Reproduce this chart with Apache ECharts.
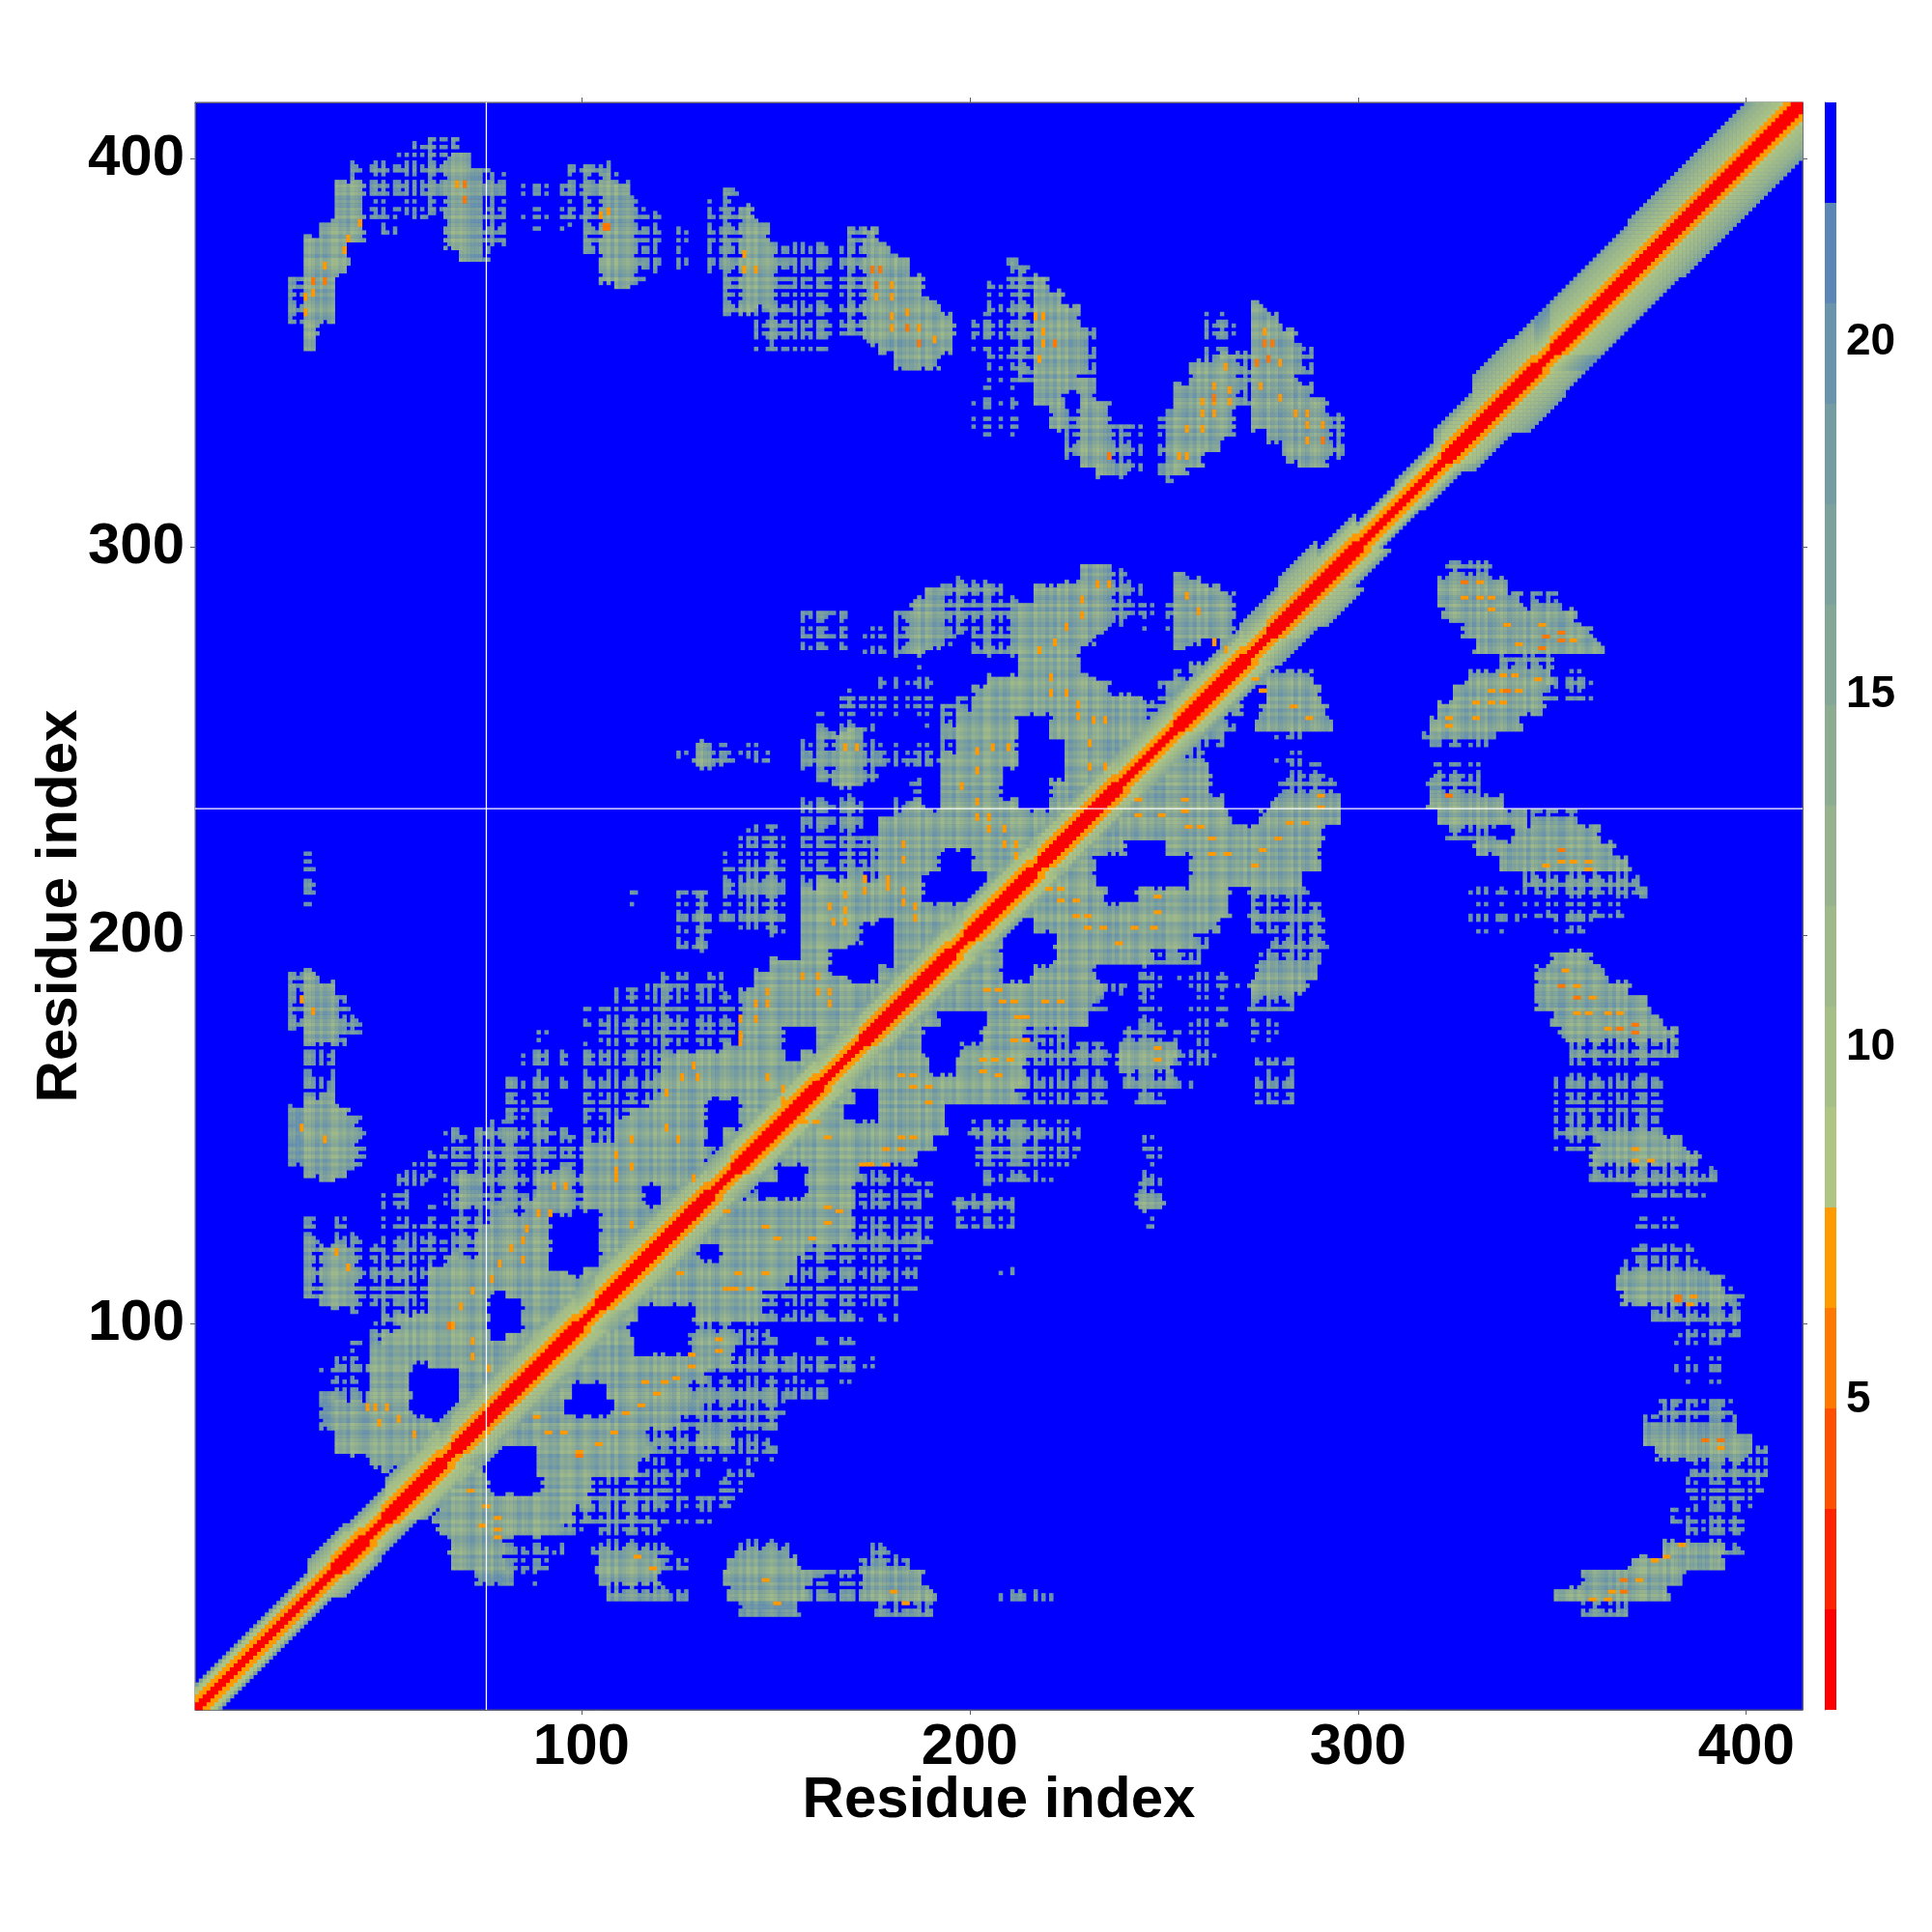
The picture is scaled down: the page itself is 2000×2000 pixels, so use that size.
<!DOCTYPE html>
<html>
<head>
<meta charset="utf-8">
<style>html,body{margin:0;padding:0;background:#fff}#c{width:2000px;height:2000px}</style>
<script src="https://cdn.jsdelivr.net/npm/echarts@6/dist/echarts.min.js"></script>
</head>
<body>
<div id="c"></div>
<script>
// Colour levels, lowest distance first
const levelColors = ['#ff0000','#ff2400','#ff5000','#ff7800','#ff9a00','#aec583','#a6bf86','#9eb98a','#96b38e','#8dad93','#85a797','#7da19c','#749ca2','#6a94ab','#5c86b6','#0000ff'];
const colorbarLow = 0.6;
const colorbarStep = 1.425;
const colorbarTicks = [5,10,15,20];
const residueTicks = [100,200,300,400];
const residueCount = 414;
const gapColumns = [75.5];
const gapRows = [232.6];

// Half width of the diagonal band, per 10 residues
const bandHalfWidth = [6,6,6,9,8,10,11,10,10,10,10,10,10,9,9,9,9,9,9,9,9,9,9,9,9,9,9,10,12,9,6,7,10,14,13,13,13,14,14,14,14,14];
// Stretches where the red and orange core of the diagonal is thick
const helixRanges = [[36,43],[49,63],[67,79],[80,98],[104,119],[120,132],[139,160],[172,194],[199,215],[218,237],[253,270],[277,299],[322,345],[350,414]];
// Level by distance from the diagonal
const helixProfile = [0,0,0,4,4,5,6,6,7,7,8,8,9,10,11,12,13];
const coilProfile = [0,0,4,4,5,6,7,8,9,10,11,12,13,13,13,13,13];

// Contacts below the diagonal, one entry per 4 rows starting at row 25: "from-to kind"
// c solid core, m solid edge, d dense hatching, h open hatching, x sparse dots
const firstContactRow = 25;
const contactRows = [
"141-156m 176-190d 358-369d",
"107-122d 122-128h 138-158c 158-172h 172-191c 207-222x 351-380c",
"73-82m 84-88x 104-120c 137-160c 160-170h 172-188c 358-384c",
"67-80c 80-92h 104-120c 120-127h 138-156c 172-184d 370-394c",
"66-80c 80-95h 103-118d 118-124h 140-153d 174-180h 379-395c 395-399h",
"63-94c 94-100h 105-120h 384-399h",
"62-98c 100-118d 118-135x 381-400h",
"64-102c 102-120d 120-140h 386-402h",
"66-76c 90-103c 103-125h 135-141h 385-404h",
"68-75c 89-115c 116-130h 138-144h 386-402d 402-405h",
"69-76c 89-118c 118-150h 377-401c 401-405h",
"70-116c 116-130d 130-139c 139-148h 374-401c",
"78-125c 125-150d 374-397d",
"83-95c 108-130c 130-152d 378-396d",
"85-97c 107-128c 128-150d 150-163h",
"89-132c 132-155h 155-172x 382-393x",
"93-139c 139-155d 155-170h 170-176x 382-393x",
"98-113c 128-140c 140-150h 160-172x 382-393x",
"101-112c 128-140d 141-148h 383-398h",
"109-114c 129-147c 147-172h 176-181x 376-398d",
"112-147c 147-182h 368-396c 396-400h",
"115-153c 153-186h 367-393c 393-396h",
"118-155c 155-186h 207-211x 368-390d",
"121-130c 136-157c 157-165d 165-188h 370-386h",
"125-168c 168-188d 188-192x",
"129-170c 170-191h 196-211h 246-248h 370-382x",
"132-170c 170-188h 196-211d 243-250c",
"137-146h 158-170c 170-190h 200-205x 243-249d 370-390h",
"145-150c 158-172c 172-185h 204-217h 217-222x 245-249h 360-392d",
"148-186c 202-217d 217-227h 246-249h 360-388c",
"150-191c 202-218d 218-228h 245-249h 351-362h 362-384c",
"154-194c 200-220d 220-228h 351-378d",
"158-167c 177-193c 351-378h",
"160-170c 177-212c 212-235h 243-250d 274-284h 351-378h",
"163-215c 215-236h 240-252d 252-258x 274-284h 351-378h",
"168-189c 197-214c 214-236h 238-252c 252-263x 274-284h 355-378x",
"172-188c 198-216c 216-236d 238-253c 253-263h 355-382d",
"175-188c 203-213c 213-225d 240-250d 253-263x 273-280x 352-382c",
"178-192c 205-230c 243-249h 255-266x 273-280x 350-378c",
"185-232c 232-236h 243-249h 255-266x 272-283d 346-375c",
"190-235c 235-240h 243-249h 255-270x 272-287c 346-370c",
"191-208c 216-232c 243-249h 254-266x 274-289c 346-364c",
"197-208c 222-247c 247-259d 275-290d 350-360c",
"202-208c 222-258c 258-262h 278-292d",
"206-210c 217-264c 273-291d 329-342x 351-360h",
"210-267c 272-290d 329-344x 346-368h",
"213-235c 243-267c 272-287d 329-344x 346-375h",
"216-232c 257-285c 343-372d",
"224-232c 257-290c 337-370c",
"226-240c 251-290c 330-366c",
"232-291c 323-335d 340-362c",
"238-267c 275-295c 321-343c 345-356d",
"238-265c 278-295c 318-337c",
"244-262c 280-294d 318-331d",
"248-262c 283-291h 320-331h",
"253-260d 279-287x",
"254-265d 279-287x 317-335d",
"262-268d 274-293c 319-342c",
"264-270c 275-292c 321-348c",
"277-290c 325-348c 348-360h",
"275-288c 328-350c 350-360h",
"337-350d",
"330-363c",
"327-360c",
"322-356c",
"321-342c 345-352d",
"321-338c",
"323-334d"
];

// Per residue lattice seen as rows and columns through the contact patches (0 close, 3 far)
const residueLattice = `
0123 0213 1302 0312 0123 2103 0132 0013 1320 0213 0123 3102 0231 1203 0312 0132
2301 0123 1032 0321 0013 1230 0213 2301 0132 0123 1203 0321 0132 1302 0123 0213
3102 0231 0123 1302 0321 0132 1203 0213 0012 2301 0132 1302 0123 0321 2103 0132
0213 0123 1230 0231 3201 0123 0213 1302 0321 0031 0123 1302 0231 0213 2301 0123
1302 0321 0132 1203 0123 0213 2103 0231 0123 1302 0321 0132 0123 1230 0213 2301
0231 0123 1302 0321 0132 1203 0123 0213 3102 0132 0123 1302 0321 0031 1203 0123
0213 2301 0132 0123 1302 0321 0132 1230 0123 0213 2103 0231 0123 1302 0321 0132
`;

// Orange cells in the patches, below the diagonal: x, y
const orangeCells = [
[75,53],[78,50],[78,47],[78,45],[71,57],[74,48],[114,40],[118,37],[99,67],[104,69],[108,72],[95,72],[91,72],[88,76],[111,77],[115,79],
[119,82],[116,85],[121,85],[124,86],[135,96],[135,93],[139,109],[137,109],[143,109],[125,113],[128,92],[128,89],[143,109],[147,113],[140,113],
[150,122],[159,122],[163,126],[147,125],[163,130],[166,129],[137,129],[172,141],[174,141],[178,141],[178,145],[182,145],[163,148],[160,152],[157,152],[182,148],[185,148],
[189,157],[185,161],[185,164],[182,164],[189,161],[211,173],[214,173],[206,168],[203,168],[210,168],[207,164],[203,165],
[211,183],[208,183],[204,186],[207,186],[212,179],[214,179],[219,183],[223,183],[248,171],[248,168],
[220,212],[223,212],[223,209],[227,209],[227,205],[230,205],[230,202],[234,202],[238,198],[242,202],[248,210],[248,206],[247,202],
[255,232],[256,228],[259,228],[262,225],[262,221],[266,221],[255,235],[243,235],[243,231],[249,231],
[273,218],[275,222],[279,225],[282,229],[286,229],[290,233],[290,236],[283,259],[287,256],[275,263],[273,266],
[331,291],[327,287],[331,287],[334,287],[334,284],[338,280],[347,280],[341,275],[355,276],
[337,267],[340,267],[346,266],[337,263],[334,263],[341,263],[334,260],[337,260],[330,260],[330,256],[323,256],[323,254],
[352,219],[355,219],[359,219],[359,217],[348,218],[353,191],[356,187],[360,184],[356,180],[359,180],[364,180],[367,180],[364,176],
[371,145],[371,142],[375,142],[386,107],[385,105],[393,68],[383,43],[379,40],[376,39],[372,34],[365,31],[364,29],[360,29],
[147,34],[150,28],[183,28],[180,31]
];
const deepOrangeCells = [
[327,291],[348,277],[352,278],[352,276],[347,274],[338,263],[323,236],[352,222],[352,187],[356,184],[367,176],[371,177],[371,175],
[382,107],[382,106],[389,70],[393,70],[368,34],[368,31],[99,66]
];

// ----- building the cells -----
const kindRule = {c:{limit:6,base:7}, m:{limit:6,base:9}, d:{limit:4,base:9}, h:{limit:2,base:10}, x:{limit:1,base:11}};
const latticeStep = [0,1,2,3,4,5,6];
const lattice = residueLattice.replace(/\s/g,'').split('').map(Number);
const latticeAt = r => lattice[(r - 1) % lattice.length];
const cells = new Map();
const cellKey = (x,y) => x * 1000 + y;
function put(x,y,level){
  if (x < 1 || y < 1 || x > residueCount || y > residueCount) return;
  const k = cellKey(x,y);
  if (!cells.has(k) || cells.get(k) > level) cells.set(k, level);
}
contactRows.forEach((row, index) => {
  const rowStart = firstContactRow + index * 4;
  row.split(' ').forEach(part => {
    const m = part.match(/(\d+)-(\d+)([a-z])/);
    const from = +m[1], to = +m[2], rule = kindRule[m[3]];
    for (let y = rowStart; y < rowStart + 4; y++) {
      for (let x = from; x <= to; x++) {
        const sum = latticeAt(x) + latticeAt(y);
        if (sum > rule.limit) continue;
        const level = Math.min(13, rule.base + latticeStep[sum]);
        put(x,y,level); put(y,x,level);
      }
    }
  });
});
// Patch rims are rougher and bluer than their middles
const patchKeys = Array.from(cells.keys());
const present = new Set(patchKeys);
const rimChanges = [];
patchKeys.forEach(k => {
  const x = Math.floor(k / 1000), y = k % 1000;
  let nearest = 9;
  [[1,0],[-1,0],[0,1],[0,-1]].forEach(d => {
    for (let s = 1; s <= 2; s++) {
      if (!present.has(cellKey(x + d[0] * s, y + d[1] * s))) { nearest = Math.min(nearest, s); break; }
    }
  });
  const sum = latticeAt(x) + latticeAt(y);
  if (nearest === 1 && sum >= 4) rimChanges.push([k, -1]);
  else if (nearest === 1) rimChanges.push([k, Math.min(13, cells.get(k) + 1)]);
});
rimChanges.forEach(c => { if (c[1] < 0) cells.delete(c[0]); else cells.set(c[0], c[1]); });

function putSpot(p, level){
  put(p[0],p[1],level); put(p[0]+1,p[1],level);
  put(p[1],p[0],level); put(p[1],p[0]+1,level);
}
orangeCells.forEach(p => putSpot(p,4));
deepOrangeCells.forEach(p => putSpot(p,3));
const inHelix = r => helixRanges.some(h => r >= h[0] && r <= h[1]);
for (let a = 1; a <= residueCount; a++) {
  const half = bandHalfWidth[Math.min(bandHalfWidth.length - 1, Math.floor(a / 10))];
  const profile = inHelix(a) ? helixProfile : coilProfile;
  for (let o = 0; o <= half; o++) {
    const level = profile[Math.min(o, profile.length - 1)];
    const outer = o >= half - 1 ? Math.max(level, 9 + (o - half + 1) * 2) : level;
    const use = o < 6 ? level : outer;
    put(a + o, a, use); put(a, a + o, use);
  }
}
const cellData = [];
cells.forEach((level, k) => {
  const x = Math.floor(k / 1000), y = k % 1000;
  cellData.push([x - 1, y - 1, level]);
});
const residueNames = [];
for (let i = 1; i <= residueCount; i++) residueNames.push(String(i));

const colorbarData = levelColors.map((c, i) => [i, colorbarLow + i * colorbarStep, colorbarLow + (i + 1) * colorbarStep]);
const labelFont = {fontFamily:'Liberation Sans', fontWeight:'bold', color:'#000'};
const axisGrey = {color:'#5c5c70', width:1};

const chart = echarts.init(document.getElementById('c'), null, {renderer:'canvas', width:2000, height:2000});
chart.setOption({
  animation:false,
  backgroundColor:'#ffffff',
  grid:[
    {left:202, top:106, width:1664, height:1664, show:true, backgroundColor:'#0000ff', borderColor:'#5c5c70', borderWidth:1, outerBoundsMode:'none'},
    {left:1889, top:106, width:12, height:1664, show:false, outerBoundsMode:'none'}
  ],
  xAxis:[
    {type:'category', gridIndex:0, data:residueNames, show:false},
    {type:'value', gridIndex:0, position:'bottom', min:0.5, max:residueCount + 0.5,
     name:'Residue index', nameLocation:'middle', nameGap:64, nameMoveOverlap:false, nameTextStyle:{...labelFont, fontSize:60},
     axisLine:{show:true, lineStyle:axisGrey}, splitLine:{show:false},
     axisTick:{show:true, length:5, lineStyle:axisGrey, customValues:residueTicks},
     axisLabel:{show:true, ...labelFont, fontSize:60, margin:9, customValues:residueTicks}},
    {type:'value', gridIndex:0, position:'top', min:0.5, max:residueCount + 0.5,
     axisLine:{show:true, lineStyle:axisGrey}, splitLine:{show:false},
     axisTick:{show:true, length:5, lineStyle:axisGrey, customValues:residueTicks},
     axisLabel:{show:false}},
    {type:'value', gridIndex:1, min:0, max:1, show:false}
  ],
  yAxis:[
    {type:'category', gridIndex:0, data:residueNames, show:false},
    {type:'value', gridIndex:0, position:'left', min:0.5, max:residueCount + 0.5,
     name:'Residue index', nameLocation:'middle', nameGap:110, nameMoveOverlap:false, nameRotate:90, nameTextStyle:{...labelFont, fontSize:60},
     axisLine:{show:true, lineStyle:axisGrey}, splitLine:{show:false},
     axisTick:{show:true, length:5, lineStyle:axisGrey, customValues:residueTicks},
     axisLabel:{show:true, ...labelFont, fontSize:60, margin:11, customValues:residueTicks}},
    {type:'value', gridIndex:0, position:'right', min:0.5, max:residueCount + 0.5,
     axisLine:{show:true, lineStyle:axisGrey}, splitLine:{show:false},
     axisTick:{show:true, length:5, lineStyle:axisGrey, customValues:residueTicks},
     axisLabel:{show:false}},
    {type:'value', gridIndex:1, position:'right', min:colorbarLow, max:colorbarLow + 16 * colorbarStep,
     axisLine:{show:true, lineStyle:{color:'#444', width:1}}, splitLine:{show:false},
     axisTick:{show:true, length:5, lineStyle:axisGrey, customValues:colorbarTicks},
     axisLabel:{show:true, ...labelFont, fontSize:46, margin:10, customValues:colorbarTicks}}
  ],
  visualMap:{show:false, type:'piecewise', seriesIndex:0, dimension:2,
    pieces:levelColors.map((c,i)=>({value:i, color:c}))},
  series:[
    {type:'heatmap', xAxisIndex:0, yAxisIndex:0, data:cellData, silent:true, progressive:0, z:2,
     itemStyle:{borderWidth:0}, emphasis:{disabled:true}},
    ...gapColumns.map(x => ({type:'line', xAxisIndex:1, yAxisIndex:1, silent:true, symbol:'none', z:5,
      data:[[x,0.5],[x,residueCount + 0.5]], lineStyle:{color:'#ffffff', width:1.3}})),
    ...gapRows.map(y => ({type:'line', xAxisIndex:1, yAxisIndex:1, silent:true, symbol:'none', z:5,
      data:[[0.5,y],[residueCount + 0.5,y]], lineStyle:{color:'#ffffff', width:1.3}})),
    {type:'custom', xAxisIndex:3, yAxisIndex:3, silent:true, data:colorbarData, z:3,
     renderItem:function(params, api){
       const a = api.coord([0, api.value(1)]), b = api.coord([1, api.value(2)]);
       return {type:'rect', shape:{x:a[0], y:b[1], width:b[0]-a[0], height:a[1]-b[1]},
               style:{fill:levelColors[api.value(0)]}};
     }}
  ]
});
</script>
</body>
</html>
